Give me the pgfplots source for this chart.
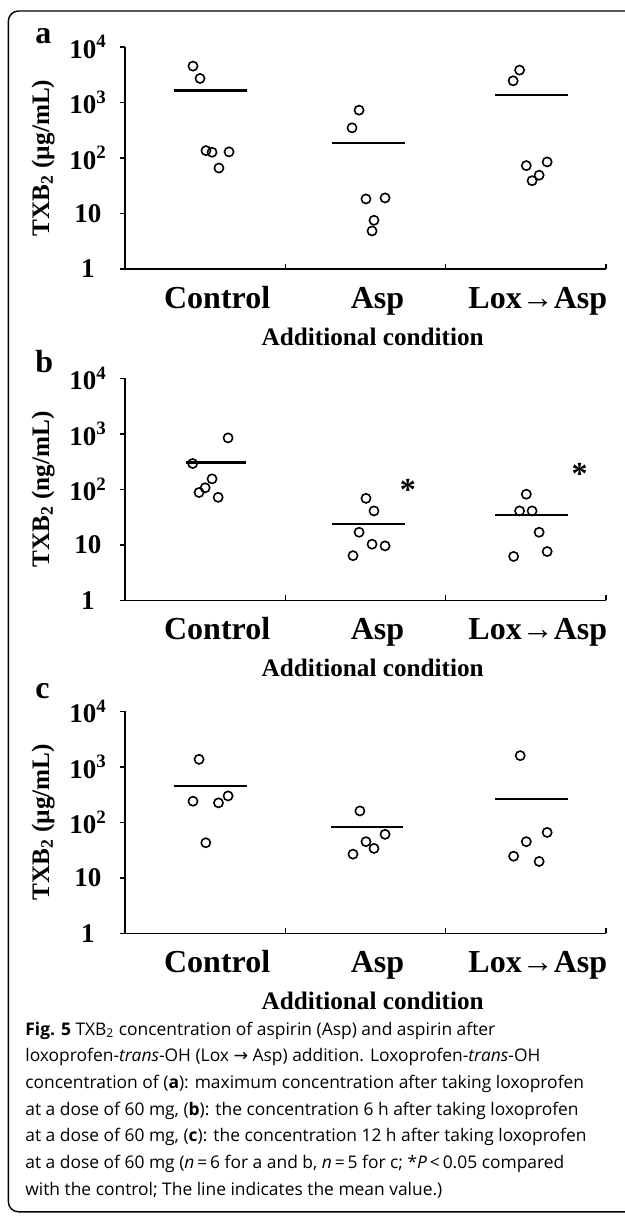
\documentclass[border=0pt]{standalone}
\usepackage{fontspec}
\setmainfont{Liberation Serif}
\newfontfamily\capfont{Open Sans}
\newfontfamily\symfont{DejaVu Sans}
\usepackage{pgfplots}
\pgfplotsset{compat=1.18}

\pgfplotsset{
  every axis/.append style={
    scale only axis, width=240.5pt, height=111pt,
    anchor=south west,
    ymode=log, ymin=1, ymax=1e4,
    xmin=0.5, xmax=3.5,
    axis x line*=bottom, axis y line*=left,
    axis line style={line width=0.9pt, -},
    tick style={line width=0.8pt, black},
    tick align=outside, major tick length=2.5pt,
    ytick={1,10,100,1000,10000},
    yticklabels={1,10,10\textsuperscript{2},10\textsuperscript{3},10\textsuperscript{4}},
    yminorticks=false,
    yticklabel style={font=\fontsize{13.5}{13.5}\selectfont\bfseries, anchor=center, xshift=-16pt},
    xtick={1,2,3},
    xticklabels={Control,Asp,Lox→Asp},
    xtick style={draw=none},
    xticklabel style={font=\fontsize{16}{16}\selectfont\bfseries, anchor=base, yshift=-17pt, xshift=6pt},
    xlabel={Additional condition},
    xlabel style={font=\fontsize{12.6}{12.6}\selectfont\bfseries, at={(axis description cs:0.515,-0.345)}, anchor=base},
    ylabel style={font=\fontsize{12.6}{12.6}\selectfont\bfseries, at={(axis description cs:-0.17,0.5)}, anchor=center},
    clip=false,
  },
}
\tikzset{
  pts/.style={only marks, mark=o, black, mark size=2.3pt, mark options={line width=0.8pt}},
  meanline/.style={black, line width=1.1pt},
  sep/.style={line width=0.8pt},
  plabel/.style={font=\fontsize{16}{16}\selectfont\bfseries, anchor=base west, inner sep=0pt},
}

\begin{document}
\begin{tikzpicture}
\useasboundingbox (0,0) rectangle (312.5pt,-608.5pt);
\draw[line width=0.7pt, rounded corners=5pt] (313pt,-5.5pt) -- (4.2pt,-5.5pt) -- (4.2pt,-605.9pt) -- (313pt,-605.9pt);

% panel a
\node[plabel] at (17.5pt,-21.5pt) {a};
\begin{axis}[at={(62.5pt,-134.5pt)}, ylabel={TXB\textsubscript{2} (µg/mL)}]
  \addplot[pts] coordinates {
    (0.924,4530) (0.968,2715) (1.005,136) (1.043,127) (1.149,129) (1.086,66)
    (1.960,728) (1.916,350) (2.003,18.3) (2.122,19.1) (2.053,7.55) (2.041,4.85)
    (2.961,3838) (2.921,2462) (3.003,73) (3.133,85) (3.083,49) (3.039,39)
  };
  \addplot[meanline] coordinates {(0.806,1650) (1.261,1650)};
  \addplot[meanline] coordinates {(1.791,187) (2.247,187)};
  \addplot[meanline] coordinates {(2.808,1377) (3.264,1377)};
  \draw[sep] (axis cs:1.5,1) -- ++(0pt,2.5pt);
  \draw[sep] (axis cs:2.5,1) -- ++(0pt,2.5pt);
  \draw[sep] (axis cs:3.5,1) -- ++(0pt,2.5pt);
\end{axis}

% panel b
\node[plabel] at (17.5pt,-186pt) {b};
\begin{axis}[at={(62.5pt,-300.2pt)}, ylabel={TXB\textsubscript{2} (ng/mL)}]
  \addplot[pts] coordinates {
    (1.143,848) (0.922,293) (1.043,155) (1.0,107) (0.962,88) (1.081,72)
    (2.003,69) (2.053,41) (1.960,16.9) (2.041,10.3) (2.122,9.6) (1.922,6.4)
    (3.003,82) (2.961,41) (3.039,41) (3.083,16.9) (3.133,7.6) (2.924,6.2)
  };
  \addplot[meanline] coordinates {(0.880,306) (1.255,306)};
  \addplot[meanline] coordinates {(1.791,23.8) (2.247,23.8)};
  \addplot[meanline] coordinates {(2.808,34.6) (3.264,34.6)};
  \node[font=\fontsize{16}{16}\selectfont\bfseries] at (axis cs:2.265,96) {*};
  \node[font=\fontsize{16}{16}\selectfont\bfseries] at (axis cs:3.335,187) {*};
  \draw[sep] (axis cs:1.5,1) -- ++(0pt,2.5pt);
  \draw[sep] (axis cs:2.5,1) -- ++(0pt,2.5pt);
  \draw[sep] (axis cs:3.5,1) -- ++(0pt,2.5pt);
\end{axis}

% panel c
\node[plabel] at (17.5pt,-349pt) {c};
\begin{axis}[at={(62.5pt,-466.7pt)}, ylabel={TXB\textsubscript{2} (µg/mL)}]
  \addplot[pts] coordinates {
    (0.962,1371) (0.924,241) (1.083,225) (1.143,300) (1.004,43)
    (1.965,161) (2.122,61) (2.003,45) (2.053,34) (1.922,26.8)
    (2.965,1597) (3.133,66) (3.003,45) (2.924,24.6) (3.083,19.8)
  };
  \addplot[meanline] coordinates {(0.806,454) (1.261,454)};
  \addplot[meanline] coordinates {(1.785,83) (2.234,83)};
  \addplot[meanline] coordinates {(2.808,262) (3.264,262)};
  \draw[sep] (axis cs:1.5,1) -- ++(0pt,2.5pt);
  \draw[sep] (axis cs:2.5,1) -- ++(0pt,2.5pt);
  \draw[sep] (axis cs:3.5,1) -- ++(0pt,2.5pt);
\end{axis}

% caption (anchored at the baseline of its last line)
\node[anchor=base west, align=left, inner sep=0pt, font=\capfont\fontsize{8.7}{13.33}\selectfont] at (12.5pt,-597.5pt) {%
\textbf{Fig. 5} TXB\textsubscript{2} concentration of aspirin (Asp) and aspirin after\\
loxoprofen-\textit{trans}-OH (Lox {\symfont →} Asp) addition. Loxoprofen-\textit{trans}-OH\\
concentration of (\textbf{a}): maximum concentration after taking loxoprofen\\
at a dose of 60 mg, (\textbf{b}): the concentration 6 h after taking loxoprofen\\
at a dose of 60 mg, (\textbf{c}): the concentration 12 h after taking loxoprofen\\
at a dose of 60 mg (\textit{n}\,=\,6 for a and b, \textit{n}\,=\,5 for c; *\textit{P}\,<\,0.05 compared\\
with the control; The line indicates the mean value.)};
\end{tikzpicture}
\end{document}
